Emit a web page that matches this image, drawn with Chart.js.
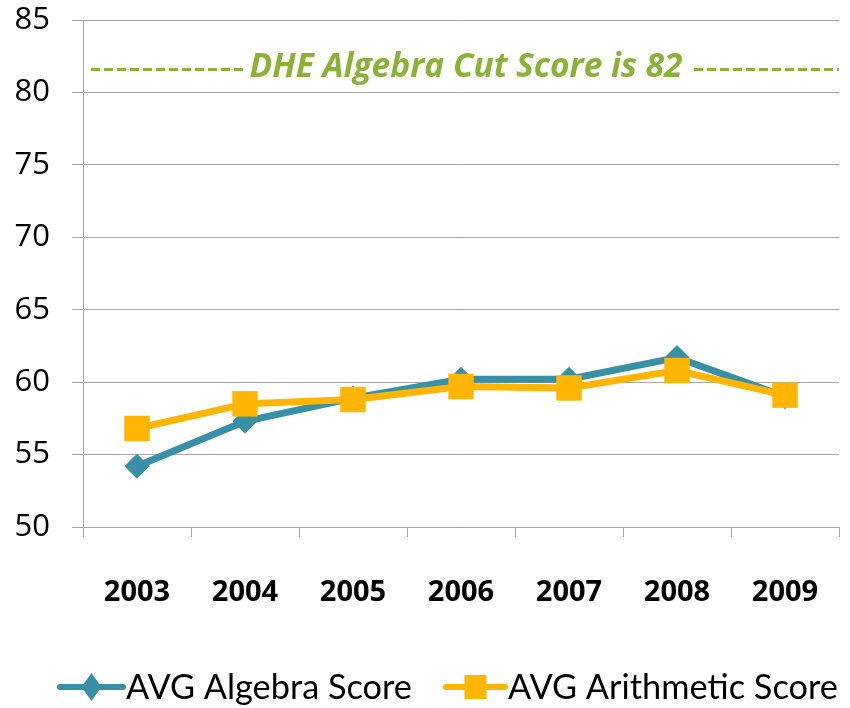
<!DOCTYPE html>
<html><head><meta charset="utf-8">
<script src="https://cdn.jsdelivr.net/npm/chart.js@4"></script>
<style>html,body{margin:0;padding:0;background:#fff}#wrap{width:850px;height:708px}</style>
</head><body><div id="wrap"><canvas id="c" width="850" height="708"></canvas></div>
<script>
const years = ['2003','2004','2005','2006','2007','2008','2009'];
const algebraScores = [54.2, 57.3, 58.9, 60.2, 60.2, 61.7, 59.0];
const arithmeticScores = [56.8, 58.5, 58.8, 59.7, 59.6, 60.8, 59.1];
const seriesNames = ['AVG Algebra Score', 'AVG Arithmetic Score'];
const cutScore = 82;
const cutLabel = 'DHE Algebra Cut Score is 82';

const TEAL = '#3890A6', GOLD = '#FFB502', GREEN = '#8AB234', GRID = '#A6A6A6';

function fitSize(ctx, text, target, style, family, start) {
  let s = start;
  for (let i = 0; i < 40; i++) {
    ctx.font = style + ' ' + s + 'px ' + family;
    const w = ctx.measureText(text).width;
    if (Math.abs(w - target) < 1) break;
    s = s * target / w;
  }
  return s;
}

const stretchRight = {
  id: 'stretchRight',
  afterLayout(chart) {
    const a = chart.chartArea, x = chart.scales.x, R = 839;
    a.right = R; a.width = R - a.left;
    x.right = R; x.width = R - x.left;
    x.configure();
  }
};

const overlay = {
  id: 'overlay',
  afterDraw(chart) {
    const ctx = chart.ctx, y = chart.scales.y, area = chart.chartArea;
    ctx.save();
    const cy = y.getPixelForValue(cutScore) + 4;
    const fs = fitSize(ctx, cutLabel, 433, 'italic bold', '"Open Sans"', 28);
    ctx.font = 'italic bold ' + fs + 'px "Open Sans"';
    ctx.fillStyle = GREEN;
    ctx.textAlign = 'center';
    ctx.textBaseline = 'middle';
    ctx.fillText(cutLabel, 466, cy);
    ctx.strokeStyle = GREEN;
    ctx.lineWidth = 3;
    ctx.setLineDash([9, 4]);
    ctx.beginPath();
    ctx.moveTo(area.left + 8, cy + 2); ctx.lineTo(246, cy + 2);
    ctx.moveTo(694, cy + 2); ctx.lineTo(area.right, cy + 2);
    ctx.stroke();
    ctx.setLineDash([]);

    const ly = 687;
    const items = [
      {x1: 60, x2: 123, color: TEAL, shape: 'diamond', tx: 126, tw: 286, label: seriesNames[0]},
      {x1: 446, x2: 505, color: GOLD, shape: 'square', tx: 508, tw: 330, label: seriesNames[1]}
    ];
    items.forEach(it => {
      ctx.strokeStyle = it.color; ctx.fillStyle = it.color;
      ctx.lineWidth = 6; ctx.lineCap = 'round';
      ctx.beginPath(); ctx.moveTo(it.x1, ly); ctx.lineTo(it.x2, ly); ctx.stroke();
      const mx = (it.x1 + it.x2) / 2;
      ctx.beginPath();
      if (it.shape === 'diamond') {
        ctx.moveTo(mx, ly - 14); ctx.lineTo(mx + 10, ly); ctx.lineTo(mx, ly + 14); ctx.lineTo(mx - 10, ly);
      } else {
        ctx.rect(mx - 11, ly - 12, 22, 24);
      }
      ctx.fill();
      const s = fitSize(ctx, it.label, it.tw, '', 'Lato', 32);
      ctx.font = s + 'px Lato';
      ctx.fillStyle = '#000';
      ctx.textAlign = 'left';
      ctx.textBaseline = 'middle';
      ctx.fillText(it.label, it.tx, ly + 1);
    });
    ctx.restore();
  }
};

new Chart(document.getElementById('c'), {
  type: 'line',
  data: {
    labels: years,
    datasets: [
      {label: seriesNames[0], data: algebraScores, borderColor: TEAL, backgroundColor: TEAL,
       borderWidth: 7, pointStyle: 'rectRot', pointRadius: 12.5, pointBorderWidth: 0,
       pointHoverRadius: 12.5, tension: 0, order: 1},
      {label: seriesNames[1], data: arithmeticScores, borderColor: GOLD, backgroundColor: GOLD,
       borderWidth: 7, pointStyle: 'rect', pointRadius: 18, pointBorderWidth: 0,
       pointHoverRadius: 18, tension: 0, order: 0}
    ]
  },
  options: {
    responsive: false, animation: false, devicePixelRatio: 1,
    layout: {padding: {top: 20, right: 3, left: 0, bottom: 0}},
    plugins: {legend: {display: false}, tooltip: {enabled: false}},
    scales: {
      x: {
        offset: true,
        grid: {offset: true, drawOnChartArea: false, drawTicks: true, tickLength: 10, color: GRID, lineWidth: 1},
        border: {color: GRID, width: 1},
        ticks: {color: '#000', font: {family: '"Open Sans"', size: 29, weight: 'bold'}, padding: 38, maxRotation: 0},
        afterFit(s) { s.height = 181; s.paddingLeft = 0; s.paddingRight = 0; }
      },
      y: {
        min: 50, max: 85,
        ticks: {stepSize: 5, color: '#000', font: {family: '"Open Sans"', size: 31}, padding: 22},
        grid: {color: GRID, lineWidth: 1, tickLength: 11},
        border: {color: GRID, width: 1},
        afterFit(s) { s.width = 83; s.paddingTop = 0; s.paddingBottom = 0; s.paddingLeft = 0; s.paddingRight = 0; }
      }
    }
  },
  plugins: [stretchRight, overlay]
});
</script>
</body></html>
